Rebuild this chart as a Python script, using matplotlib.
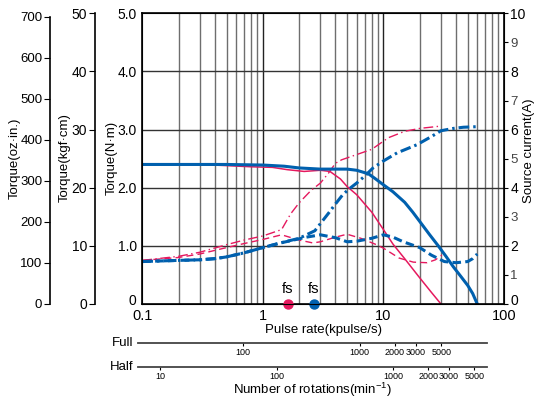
import matplotlib.pyplot as plt
import matplotlib.transforms as mtransforms
import numpy as np

plt.rcParams["font.family"] = ["Liberation Sans", "DejaVu Sans"]
plt.rcParams["axes.unicode_minus"] = False

RED = "#e5195e"
BLUE = "#0060ae"

# ----- data (pulse rate kpulse/s, torque N·m ; current curves as N·m equiv = A/2) -----
red_solid_x = [0.1, 0.3, 0.5, 0.8, 1.2, 1.6, 2.2, 3.0, 3.6, 4.4, 5, 6, 8, 10, 12, 15, 20, 25, 30]
red_solid_y = [2.40, 2.40, 2.38, 2.36, 2.35, 2.31, 2.28, 2.30, 2.28, 2.15, 2.02, 1.88, 1.58, 1.28, 1.03, 0.78, 0.45, 0.20, 0.0]

blue_solid_x = [0.1, 0.5, 1, 1.5, 2, 3, 5, 6, 7.5, 8.5, 10, 12, 15, 17.5, 20, 24, 28.5, 33, 38, 44, 50, 55, 60]
blue_solid_y = [2.40, 2.40, 2.39, 2.37, 2.34, 2.32, 2.32, 2.30, 2.24, 2.16, 2.05, 1.93, 1.75, 1.58, 1.42, 1.20, 1.00, 0.82, 0.64, 0.47, 0.32, 0.18, 0.0]

red_dash_x = [0.1, 0.2, 0.3, 0.5, 0.7, 1.0, 1.43, 2.0, 2.6, 3.0, 4.0, 5.0, 6.5, 8.75, 10, 13.5, 17.7, 23, 27, 30.5]
red_dash_y = [0.75, 0.80, 0.86, 0.97, 1.04, 1.11, 1.19, 1.10, 1.05, 1.07, 1.15, 1.20, 1.13, 1.02, 0.96, 0.79, 0.72, 0.71, 0.76, 0.84]

blue_dash_x = [0.1, 0.2, 0.3, 0.4, 0.5, 0.7, 1.0, 1.4, 1.8, 2.3, 3.0, 4.0, 5.0, 6.0, 8.0, 10, 12, 14.6, 20, 25, 32, 40, 50, 55, 60]
blue_dash_y = [0.73, 0.75, 0.76, 0.78, 0.81, 0.88, 0.97, 1.05, 1.10, 1.15, 1.19, 1.14, 1.07, 1.08, 1.13, 1.19, 1.15, 1.07, 0.97, 0.84, 0.73, 0.71, 0.73, 0.78, 0.86]

red_dd_x = [0.1, 0.2, 0.3, 0.5, 0.7, 1.0, 1.43, 1.7, 2.0, 2.5, 3.0, 3.5, 4.0, 4.5, 6, 8, 11, 15, 20, 30]
red_dd_y = [0.75, 0.82, 0.89, 1.02, 1.10, 1.17, 1.28, 1.55, 1.74, 1.95, 2.08, 2.25, 2.42, 2.48, 2.57, 2.66, 2.86, 2.97, 3.02, 3.06]

blue_dd_x = [0.1, 0.2, 0.3, 0.4, 0.5, 0.7, 1.0, 1.4, 2.0, 2.7, 3.1, 3.5, 4.0, 4.6, 5.2, 6.0, 7.0, 8.2, 10, 13, 19, 25, 30, 38, 46, 60]
blue_dd_y = [0.73, 0.75, 0.76, 0.78, 0.81, 0.88, 0.97, 1.05, 1.13, 1.26, 1.42, 1.56, 1.72, 1.88, 1.98, 2.08, 2.20, 2.34, 2.46, 2.60, 2.74, 2.88, 2.98, 3.02, 3.04, 3.05]

fs_x = [1.61, 2.65]
fs_colors = [RED, BLUE]

xticks_main = [0.1, 1, 10, 100]
full_ticks = [100, 1000, 2000, 3000, 5000]
half_ticks = [10, 100, 1000, 2000, 3000, 5000]

fig = plt.figure(figsize=(5.41, 3.98), dpi=100)
ax = fig.add_axes([0.263, 0.2362, 0.6686, 0.7304])
lift = mtransforms.ScaledTranslation(0, 3 / 72, fig.dpi_scale_trans)

ax.set_xscale("log")
ax.set_xlim(0.1, 100)
ax.set_ylim(0, 5)

# grid
for dec in [0.1, 1, 10]:
    for k in range(2, 10):
        ax.axvline(dec * k, color="#6e6e6e", lw=1.0, zorder=0)
for v in [1, 10]:
    ax.axvline(v, color="#222222", lw=1.0, zorder=0)
for h in [1, 2, 3, 4]:
    ax.axhline(h, color="#333333", lw=1.0, zorder=0)

ax.plot(red_dd_x, red_dd_y, color=RED, lw=1.0, ls=(0, (7, 2.5, 1, 2.5)))
ax.plot(red_dash_x, red_dash_y, color=RED, lw=1.0, ls=(0, (5, 3)))
ax.plot(red_solid_x, red_solid_y, color=RED, lw=1.1)
ax.plot(blue_dd_x, blue_dd_y, color=BLUE, lw=2.2, ls=(0, (3.5, 1.3, 0.8, 1.3)))
ax.plot(blue_dash_x, blue_dash_y, color=BLUE, lw=2.2, ls=(0, (2.8, 1.4)))
ax.plot(blue_solid_x, blue_solid_y, color=BLUE, lw=2.2)

for x, c in zip(fs_x, fs_colors):
    ax.plot([x], [0], "o", color=c, ms=6.5, clip_on=False, zorder=5)
    ax.text(x, 0.13, "fs", ha="center", va="bottom", fontsize=10.5)

ax.set_xticks(xticks_main)
ax.set_xticklabels(["0.1", "1", "10", "100"])
ax.xaxis.set_minor_locator(plt.NullLocator())
ax.tick_params(axis="x", length=0, labelsize=10.5, pad=3.5)
ax.set_yticks([0, 1, 2, 3, 4, 5])
ax.set_yticklabels(["0", "1.0", "2.0", "3.0", "4.0", "5.0"])
ax.tick_params(axis="y", length=0, labelsize=10, pad=4)
ax.set_xlabel("Pulse rate(kpulse/s)", fontsize=9.5, labelpad=1)
for s in ax.spines.values():
    s.set_linewidth(1.2)
t0 = ax.get_yticklabels()[0]
t0.set_transform(t0.get_transform() + lift)

# right: source current
axr = ax.twinx()
axr.set_ylim(0, 10)
axr.set_yticks(range(11))
axr.tick_params(axis="y", length=3, labelsize=10, pad=1.5)
for t in axr.get_yticklabels():
    if int(t.get_text()) % 2:
        t.set_color("#444444")
        t.set_fontsize(9.5)
r0 = axr.get_yticklabels()[0]
r0.set_transform(r0.get_transform() + lift)

# left: kgf·cm
axk = ax.twinx()
axk.set_ylim(0, 50)
axk.spines["left"].set_position(("axes", -0.1308))
axk.spines["left"].set_visible(True)
axk.spines["left"].set_linewidth(1.2)
for n in ["right", "top", "bottom"]:
    axk.spines[n].set_visible(False)
axk.yaxis.set_ticks_position("left")
axk.set_yticks([0, 10, 20, 30, 40, 50])
axk.tick_params(axis="y", length=4, labelsize=10, pad=1.5)

# left: oz·in
axo = ax.twinx()
axo.set_ylim(0, 5 * 141.6)
axo.spines["left"].set_position(("axes", -0.2552))
axo.spines["left"].set_visible(True)
axo.spines["left"].set_linewidth(1.2)
axo.spines["left"].set_bounds(0, 700)
for n in ["right", "top", "bottom"]:
    axo.spines[n].set_visible(False)
axo.yaxis.set_ticks_position("left")
axo.set_yticks(range(0, 800, 100))
axo.tick_params(axis="y", length=4, labelsize=9.5, pad=1.5)

# axis titles
fig.text(0.028, 0.603, "Torque(oz·in.)", rotation=90, ha="center", va="center", fontsize=9.5)
fig.text(0.120, 0.603, "Torque(kgf·cm)", rotation=90, ha="center", va="center", fontsize=9.5)
fig.text(0.206, 0.603, "Torque(N·m)", rotation=90, ha="center", va="center", fontsize=9.5)
fig.text(0.978, 0.62, "Source current(A)", rotation=90, ha="center", va="center", fontsize=9.5)

# bottom rotation scales
def rot_scale(y, lims, ticks, name):
    a = fig.add_axes([0.2551, y, 0.6451, 0.0001])
    a.set_xscale("log")
    a.set_xlim(*lims)
    a.set_yticks([])
    for n in ["left", "right", "top"]:
        a.spines[n].set_visible(False)
    a.spines["bottom"].set_color("#444444")
    a.spines["bottom"].set_linewidth(1.3)
    a.set_xticks(ticks)
    a.set_xticklabels([str(t) for t in ticks])
    a.xaxis.set_minor_locator(plt.NullLocator())
    a.tick_params(axis="x", length=2, width=0.8, labelsize=6.5, pad=1.5)
    a.patch.set_visible(False)
    fig.text(0.246, y, name, ha="right", va="center", fontsize=9.5)
    return a

rot_scale(0.1374, (12.74, 12246), full_ticks, "Full")
rot_scale(0.0786, (6.47, 6412), half_ticks, "Half")
fig.text(0.577, 0.021, "Number of rotations(min$^{\\mathregular{-1}}$)", ha="center", va="center", fontsize=9.5)

fig.savefig("out.png", dpi=100)
